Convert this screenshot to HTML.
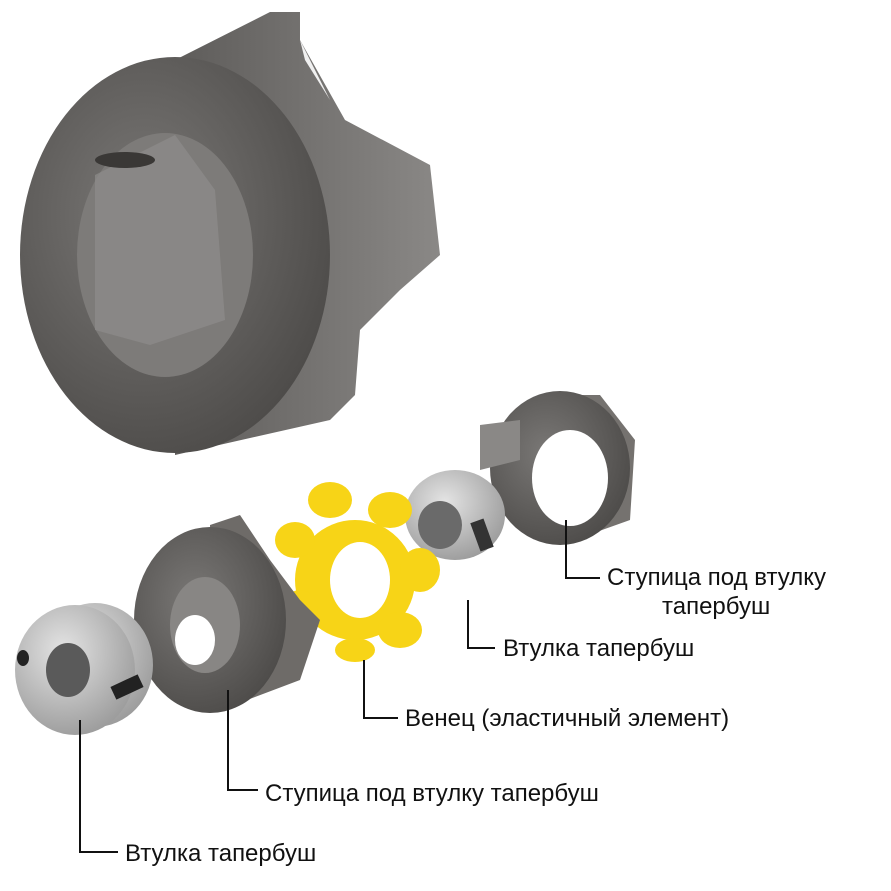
<!DOCTYPE html>
<html><head><meta charset="utf-8"><style>
html,body{margin:0;padding:0;background:#fff;}
svg{display:block}
text{font-family:"Liberation Sans","DejaVu Sans",sans-serif;font-size:24px;fill:#111}
</style></head><body>
<svg width="891" height="891" viewBox="0 0 891 891" xmlns="http://www.w3.org/2000/svg">
<defs>
<radialGradient id="dk" cx="40%" cy="40%" r="70%"><stop offset="0" stop-color="#7a7876"/><stop offset="1" stop-color="#4a4846"/></radialGradient>
<radialGradient id="sv" cx="40%" cy="35%" r="70%"><stop offset="0" stop-color="#e4e4e4"/><stop offset="1" stop-color="#9a9a9a"/></radialGradient>
<linearGradient id="side" x1="0" x2="1"><stop offset="0" stop-color="#5e5c5a"/><stop offset="1" stop-color="#8a8886"/></linearGradient>
</defs>
<path d="M175 60 L270 12 L300 12 L300 40 L345 120 L430 165 L440 255 L400 290 L360 330 L355 395 L330 420 L175 455 Z" fill="url(#side)"/>
<path d="M300 40 L330 100 L305 60 Z" fill="#f0f0f0"/>
<ellipse cx="175" cy="255" rx="155" ry="198" fill="url(#dk)"/>
<ellipse cx="165" cy="255" rx="88" ry="122" fill="#7d7b79"/>
<path d="M95 175 L175 135 L215 190 L225 320 L150 345 L95 330 Z" fill="#8f8d8b" opacity=".7"/>
<ellipse cx="125" cy="160" rx="30" ry="8" fill="#3a3836"/>
<path d="M560 395 L600 395 L635 440 L630 520 L560 545 Z" fill="#75726f"/>
<ellipse cx="560" cy="468" rx="70" ry="77" fill="url(#dk)"/>
<ellipse cx="570" cy="478" rx="38" ry="48" fill="#ffffff"/>
<path d="M480 425 L520 420 L520 460 L480 470 Z" fill="#8a8886"/>
<ellipse cx="455" cy="515" rx="50" ry="45" fill="url(#sv)"/>
<ellipse cx="440" cy="525" rx="22" ry="24" fill="#6a6a6a"/>
<rect x="475" y="520" width="14" height="30" fill="#333" transform="rotate(-20 482 535)"/>
<g fill="#f7d417">
<circle cx="355" cy="580" r="60"/>
<ellipse cx="330" cy="500" rx="22" ry="18"/><ellipse cx="390" cy="510" rx="22" ry="18"/>
<ellipse cx="295" cy="540" rx="20" ry="18"/><ellipse cx="420" cy="570" rx="20" ry="22"/>
<ellipse cx="300" cy="610" rx="18" ry="20"/><ellipse cx="400" cy="630" rx="22" ry="18"/>
<ellipse cx="355" cy="650" rx="20" ry="12"/>
</g>
<ellipse cx="360" cy="580" rx="30" ry="38" fill="#fff"/>
<path d="M210 525 L240 515 L270 560 L300 600 L320 620 L300 680 L215 712 Z" fill="#6e6b68"/>
<ellipse cx="210" cy="620" rx="76" ry="93" fill="url(#dk)"/>
<ellipse cx="205" cy="625" rx="35" ry="48" fill="#888684"/>
<ellipse cx="195" cy="640" rx="20" ry="25" fill="#fff"/>
<ellipse cx="95" cy="665" rx="58" ry="62" fill="url(#sv)"/>
<ellipse cx="75" cy="670" rx="60" ry="65" fill="url(#sv)"/>
<ellipse cx="68" cy="670" rx="22" ry="27" fill="#5a5a5a"/>
<ellipse cx="23" cy="658" rx="6" ry="8" fill="#222"/>
<rect x="112" y="680" width="30" height="14" fill="#222" transform="rotate(-25 127 687)"/>
<g stroke="#111" stroke-width="2" fill="none">
<path d="M566 520 V578 H600"/>
<path d="M468 600 V648 H495"/>
<path d="M364 660 V718 H398"/>
<path d="M228 690 V790 H258"/>
<path d="M80 720 V852 H118"/>
</g>
<text x="607" y="585">Ступица под втулку</text>
<text x="662" y="614">тапербуш</text>
<text x="503" y="656">Втулка тапербуш</text>
<text x="405" y="726">Венец (эластичный элемент)</text>
<text x="265" y="801">Ступица под втулку тапербуш</text>
<text x="125" y="861">Втулка тапербуш</text>
</svg>
</body></html>
